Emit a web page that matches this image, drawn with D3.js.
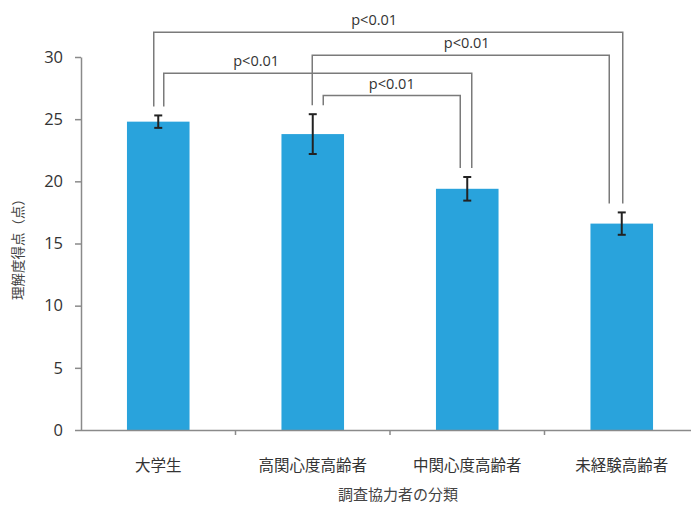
<!DOCTYPE html>
<html>
<head>
<meta charset="utf-8">
<script src="https://cdn.jsdelivr.net/npm/d3@7"></script>
<style>
  html, body { margin: 0; padding: 0; background: #fff; }
  svg { display: block; }
</style>
</head>
<body>
<svg id="chart" width="691" height="506"></svg>
<script>
// Participant groups and their mean comprehension scores with error ranges
const categories = ["大学生", "高関心度高齢者", "中関心度高齢者", "未経験高齢者"];
const means = [24.8, 23.8, 19.4, 16.6];
const errors = [0.5, 1.6, 0.95, 0.9];
const yTicks = [0, 5, 10, 15, 20, 25, 30];
const yTitle = "理解度得点（点）";
const xTitle = "調査協力者の分類";

// Significance brackets: pairs of group indices and their label
const pairFrom = [0, 1, 0, 1];
const pairTo = [3, 3, 2, 2];
const pairLabels = ["p<0.01", "p<0.01", "p<0.01", "p<0.01"];

// Bracket drawing layout (level on the score scale, leg offsets and label placement)
const bracketLevel = [32.0, 30.15, 28.7, 26.9];
const legOffsetFrom = [-4.5, -0.5, 5.5, 10.5];
const legOffsetTo = [1, -12.5, 4.5, -7];
const labelFrac = [0.47, 0.52, 0.30, 0.50];

const svg = d3.select("#chart");
const plotLeft = 81, plotRight = 699, plotBottom = 430, plotTop = 57;

const x = d3.scaleBand().domain(categories).range([plotLeft, plotRight]).padding(0);
const y = d3.scaleLinear().domain([0, 30]).range([plotBottom, plotTop]);
const barW = x.bandwidth() * 0.405;
const cx = c => x(c) + x.bandwidth() / 2;

const axisColor = "#8a8a8a";
const textColor = "#333";
const latin = "'Open Sans', 'Noto Sans', sans-serif";
const cjk = "'Noto Sans CJK JP', sans-serif";

// Bars
svg.append("g").selectAll("rect")
  .data(categories)
  .join("rect")
  .attr("x", (c) => cx(c) - barW / 2)
  .attr("y", (c, i) => y(means[i]))
  .attr("width", barW)
  .attr("height", (c, i) => y(0) - y(means[i]))
  .attr("fill", "#29a3dc");

// Error bars
const eb = svg.append("g").attr("stroke", "#222").attr("stroke-width", 2);
categories.forEach((c, i) => {
  const px = cx(c);
  const hi = y(means[i] + errors[i]), lo = y(means[i] - errors[i]);
  eb.append("line").attr("x1", px).attr("x2", px).attr("y1", hi).attr("y2", lo);
  eb.append("line").attr("x1", px - 4).attr("x2", px + 4).attr("y1", hi).attr("y2", hi);
  eb.append("line").attr("x1", px - 4).attr("x2", px + 4).attr("y1", lo).attr("y2", lo);
});

// Y axis
const yAxis = svg.append("g")
  .attr("transform", `translate(${plotLeft},0)`)
  .call(d3.axisLeft(y).tickValues(yTicks).tickSize(6).tickPadding(12).tickSizeOuter(0));
yAxis.select(".domain").attr("stroke", axisColor).attr("stroke-width", 1.5);
yAxis.selectAll(".tick line").attr("stroke", axisColor).attr("stroke-width", 1.5);
yAxis.selectAll(".tick text")
  .attr("font-family", latin).attr("font-size", 16.5).attr("fill", textColor);

// X axis with boundary ticks between groups
const xa = svg.append("g");
xa.append("line")
  .attr("x1", plotLeft).attr("x2", 691).attr("y1", plotBottom + 0.5).attr("y2", plotBottom + 0.5)
  .attr("stroke", axisColor).attr("stroke-width", 1.5);
xa.selectAll("line.tick")
  .data(categories.slice(1))
  .join("line")
  .attr("class", "tick")
  .attr("x1", c => x(c)).attr("x2", c => x(c))
  .attr("y1", plotBottom).attr("y2", plotBottom + 5)
  .attr("stroke", axisColor).attr("stroke-width", 1.5);
xa.selectAll("text")
  .data(categories)
  .join("text")
  .attr("x", c => cx(c))
  .attr("y", 471)
  .attr("text-anchor", "middle")
  .attr("font-family", cjk).attr("font-size", 15.5).attr("fill", textColor)
  .text(c => c);

// Axis titles
svg.append("text")
  .attr("x", 398).attr("y", 500)
  .attr("text-anchor", "middle")
  .attr("font-family", cjk).attr("font-size", 15).attr("fill", "#444")
  .text(xTitle);
svg.append("text")
  .attr("transform", "translate(23,246) rotate(-90)")
  .attr("text-anchor", "middle")
  .attr("font-family", cjk).attr("font-size", 13.5).attr("fill", "#444")
  .text(yTitle);

// Significance brackets
const br = svg.append("g");
pairFrom.forEach((a, k) => {
  const b = pairTo[k];
  const x1 = cx(categories[a]) + legOffsetFrom[k];
  const x2 = cx(categories[b]) + legOffsetTo[k];
  const yl = y(bracketLevel[k]);
  const end1 = y(means[a] + errors[a]) - 9;
  const end2 = y(means[b] + errors[b]) - 9;
  br.append("path")
    .attr("d", `M${x1},${end1}V${yl}H${x2}V${end2}`)
    .attr("fill", "none").attr("stroke", "#7a7a7a").attr("stroke-width", 1.5);
  br.append("text")
    .attr("x", x1 + (x2 - x1) * labelFrac[k])
    .attr("y", yl - 7)
    .attr("text-anchor", "middle")
    .attr("font-family", latin).attr("font-size", 14.5).attr("fill", textColor)
    .text(pairLabels[k]);
});
</script>
</body>
</html>
